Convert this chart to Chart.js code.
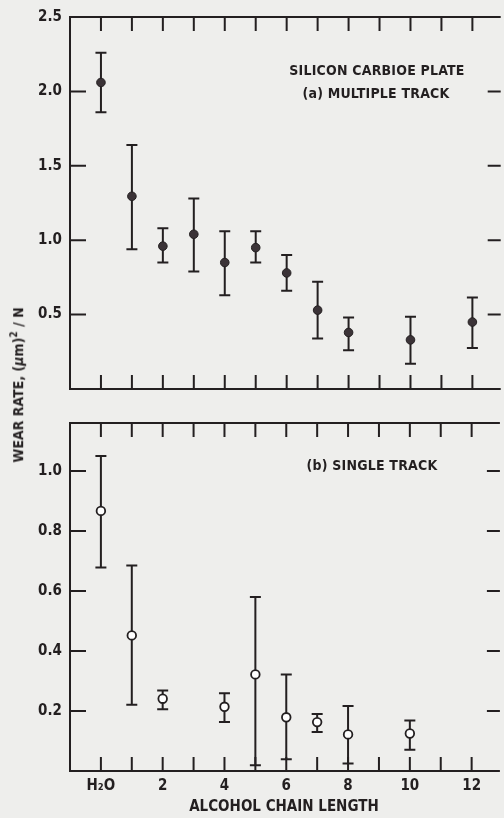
<!DOCTYPE html>
<html lang="en">
<head>
<meta charset="UTF-8">
<title>Wear Rate vs Alcohol Chain Length</title>
<script src="https://cdn.jsdelivr.net/npm/chart.js"></script>
<style>
  body { margin: 0; background: #eeeeec; overflow: hidden; }
  #wrap { position: relative; width: 504px; height: 818px; }
  .panel { position: absolute; left: 0; width: 504px; }
  #topPanel { top: 0; height: 406px; }
  #bottomPanel { top: 406px; height: 412px; }
  .note {
    position: absolute; transform: translate(-50%, -50%); white-space: nowrap;
    font: bold 14px "Liberation Sans Narrow", "DejaVu Sans Condensed", sans-serif;
    color: #231f20; letter-spacing: 0.2px; line-height: 14px;
  }
  #yTitle {
    position: absolute; left: 17px; top: 385px; white-space: nowrap;
    transform: translate(-50%, -50%) rotate(-90deg);
    font: bold 14px "Liberation Sans Narrow", "DejaVu Sans Condensed", sans-serif;
    color: #231f20; letter-spacing: 0;
  }
  #yTitle sup { font-size: 10px; }
</style>
</head>
<body>
<div id="wrap">
  <div class="panel" id="topPanel"><canvas id="multiChart" width="504" height="406"></canvas></div>
  <div class="panel" id="bottomPanel"><canvas id="singleChart" width="504" height="412"></canvas></div>
  <div class="note" style="left:377px; top:70px;">SILICON CARBIOE PLATE</div>
  <div class="note" style="left:376px; top:93px;">(a) MULTIPLE TRACK</div>
  <div class="note" style="left:372px; top:465px;">(b) SINGLE TRACK</div>
  <div id="yTitle">WEAR RATE, (<i>μ</i>m)<sup>2</sup> / N</div>
</div>

<script>
// (a) multiple track
const multiLength = [0, 1, 2, 3, 4, 5, 6, 7, 8, 10, 12];
const multiRate = [2.06, 1.295, 0.96, 1.04, 0.85, 0.95, 0.78, 0.53, 0.38, 0.33, 0.45];
const multiLow  = [1.86, 0.94, 0.85, 0.79, 0.63, 0.85, 0.66, 0.34, 0.26, 0.17, 0.275];
const multiHigh = [2.26, 1.64, 1.08, 1.28, 1.06, 1.06, 0.90, 0.72, 0.48, 0.485, 0.615];

// (b) single track
const singleLength = [0, 1, 2, 4, 5, 6, 7, 8, 10];
const singleRate = [0.867, 0.452, 0.241, 0.214, 0.322, 0.179, 0.163, 0.122, 0.125];
const singleLow  = [0.678, 0.221, 0.206, 0.163, 0.019, 0.039, 0.13, 0.025, 0.071];
const singleHigh = [1.05, 0.685, 0.268, 0.259, 0.58, 0.322, 0.19, 0.217, 0.168];

const xTickValues = [0, 1, 2, 3, 4, 5, 6, 7, 8, 9, 10, 11, 12];
const xTickLabels = ['H₂O', '', '2', '', '4', '', '6', '', '8', '', '10', '', '12'];
const multiYTicks = [0.5, 1.0, 1.5, 2.0, 2.5];
const singleYTicks = [0.2, 0.4, 0.6, 0.8, 1.0];

const ink = '#231f20';
const fontFamily = '"Liberation Sans Narrow", "DejaVu Sans Condensed", sans-serif';

// axis frame with inward tick marks, like the printed figure
const framePlugin = {
  id: 'frame',
  beforeDatasetsDraw(chart) {
    const { ctx, chartArea: a, scales: { x, y } } = chart;
    const yTicks = chart.options.plugins.frame.yTicks;
    ctx.save();
    ctx.strokeStyle = ink;
    ctx.lineWidth = 2;
    ctx.beginPath();
    ctx.moveTo(a.right + 2, a.top); ctx.lineTo(a.left, a.top);
    ctx.lineTo(a.left, a.bottom); ctx.lineTo(a.right + 2, a.bottom);
    xTickValues.forEach(v => {
      const px = x.getPixelForValue(v);
      ctx.moveTo(px, a.bottom); ctx.lineTo(px, a.bottom - 14);
      ctx.moveTo(px, a.top); ctx.lineTo(px, a.top + 14);
    });
    yTicks.forEach(v => {
      const py = y.getPixelForValue(v);
      ctx.moveTo(a.left, py); ctx.lineTo(a.left + 16, py);
      ctx.moveTo(a.right - 11, py); ctx.lineTo(a.right + 2, py);
    });
    ctx.stroke();

    // error bars
    chart.data.datasets.forEach(ds => {
      ds.data.forEach((p, i) => {
        const px = x.getPixelForValue(p.x);
        const yl = y.getPixelForValue(ds.errLow[i]);
        const yh = y.getPixelForValue(ds.errHigh[i]);
        ctx.beginPath();
        ctx.moveTo(px, yl); ctx.lineTo(px, yh);
        ctx.moveTo(px - 5.5, yl); ctx.lineTo(px + 5.5, yl);
        ctx.moveTo(px - 5.5, yh); ctx.lineTo(px + 5.5, yh);
        ctx.stroke();
      });
    });
    ctx.restore();
  }
};

function makeChart(id, opts) {
  return new Chart(document.getElementById(id), {
    type: 'scatter',
    data: {
      datasets: [{
        data: opts.xs.map((v, i) => ({ x: v, y: opts.ys[i] })),
        errLow: opts.low,
        errHigh: opts.high,
        pointStyle: 'circle',
        pointRadius: 4.3,
        pointHoverRadius: 4.3,
        backgroundColor: opts.fill,
        borderColor: ink,
        borderWidth: opts.border
      }]
    },
    options: {
      responsive: false,
      animation: false,
      layout: { padding: { top: opts.padTop, right: 0, left: 0, bottom: 0 } },
      plugins: {
        legend: { display: false },
        tooltip: { enabled: false },
        frame: { yTicks: opts.yTicks }
      },
      scales: {
        x: {
          type: 'linear', min: -1, max: 12.85,
          grid: { display: false, drawTicks: false },
          border: { display: false },
          afterBuildTicks: s => { s.ticks = xTickValues.map(v => ({ value: v })); },
          afterFit: s => { s.height = opts.xHeight; },
          ticks: {
            display: opts.showX, padding: 6, color: ink, maxRotation: 0, autoSkip: false,
            font: { family: fontFamily, size: 15, weight: 'bold' },
            callback: (v, i) => xTickLabels[i]
          },
          title: {
            display: opts.showX, text: 'ALCOHOL CHAIN LENGTH', color: ink,
            font: { family: fontFamily, size: 15, weight: 'bold' },
            padding: { top: 0, bottom: 2 }
          }
        },
        y: {
          min: 0, max: opts.yMax,
          grid: { display: false, drawTicks: false },
          border: { display: false },
          afterBuildTicks: s => { s.ticks = opts.yTicks.map(v => ({ value: v })); },
          afterFit: s => { s.width = 70; },
          ticks: {
            padding: 8, color: ink,
            font: { family: fontFamily, size: 15, weight: 'bold' },
            callback: v => v.toFixed(1)
          }
        }
      }
    },
    plugins: [framePlugin]
  });
}

makeChart('multiChart', {
  xs: multiLength, ys: multiRate, low: multiLow, high: multiHigh,
  yMax: 2.5, yTicks: multiYTicks, padTop: 16, xHeight: 8, showX: false,
  fill: '#3b3337', border: 1
});

makeChart('singleChart', {
  xs: singleLength, ys: singleRate, low: singleLow, high: singleHigh,
  yMax: 1.16, yTicks: singleYTicks, padTop: 7, xHeight: 47, showX: true,
  fill: '#ffffff', border: 1.8
});
</script>
</body>
</html>
